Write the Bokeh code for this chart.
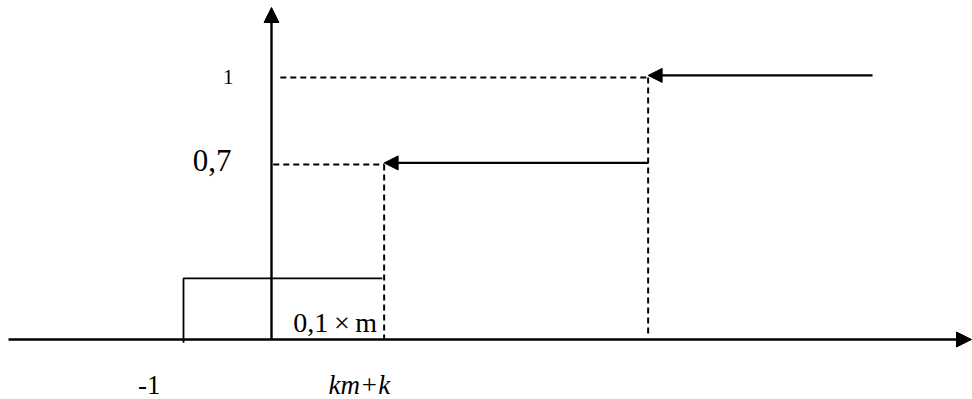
from bokeh.plotting import figure
from bokeh.models import Arrow, NormalHead, Range1d
from bokeh.core.properties import value
from bokeh.embed import file_html
from bokeh.resources import INLINE

# ---- data ----
jump_x = [-1.0, 1.28, 4.28]        # jump points of the step function
step_y = [0.233, 0.668, 1.0]       # drawn heights of the steps
top_arrow_start = 6.83             # right end of the top level arrow
x_labels = ["-1", "km+k"]
y_labels = ["0,7", "1"]
rect_label = "0,1\u2009\u00d7\u2009m"

PX_X = 88.0    # pixels per x unit
PX_Y = 262.0   # pixels per y unit

W, H = 972, 399
ORIGIN_X, ORIGIN_Y = 271.0, 339.0
x0 = -ORIGIN_X / PX_X
x1 = x0 + W / PX_X
y1 = ORIGIN_Y / PX_Y
y0 = y1 - H / PX_Y

p = figure(width=W, height=H, output_backend="svg", toolbar_location=None,
           x_range=Range1d(x0, x1), y_range=Range1d(y0, y1),
           min_border=0, min_border_left=0, min_border_right=0,
           min_border_top=0, min_border_bottom=0)
p.axis.visible = False
p.grid.visible = False
p.outline_line_color = None
p.background_fill_color = "white"
p.border_fill_color = "white"

# axes with arrows
x_start = x0 + 8.0 / PX_X
x_tip = x1 - 1.0 / PX_X
y_tip = y1 - 7.0 / PX_Y
p.add_layout(Arrow(end=NormalHead(size=15, fill_color="black", line_color="black"),
                   x_start=x_start, y_start=0, x_end=x_tip, y_end=0,
                   line_width=2.4, line_color="black"))
p.add_layout(Arrow(end=NormalHead(size=15, fill_color="black", line_color="black"),
                   x_start=0, y_start=0, x_end=0, y_end=y_tip,
                   line_width=2.4, line_color="black"))

# rectangle (0,1 x m step)
p.line([jump_x[0], jump_x[0], jump_x[1] - 0.02], [-0.012, step_y[0], step_y[0]],
       line_color="black", line_width=1.8)

# level arrows
p.add_layout(Arrow(end=NormalHead(size=14, fill_color="black", line_color="black"),
                   x_start=jump_x[2], y_start=step_y[1] + 0.006, x_end=jump_x[1],
                   y_end=step_y[1] + 0.006,
                   line_width=2.4, line_color="black"))
p.add_layout(Arrow(end=NormalHead(size=14, fill_color="black", line_color="black"),
                   x_start=top_arrow_start, y_start=step_y[2] + 0.008,
                   x_end=jump_x[2], y_end=step_y[2] + 0.008,
                   line_width=2.4, line_color="black"))

# dashed guides
dash = dict(line_color="black", line_width=2, line_dash="6 4")
p.line([0.02, jump_x[1]], [step_y[1], step_y[1]], **dash)
p.line([0.1, jump_x[2]], [step_y[2], step_y[2]], **dash)
p.line([jump_x[1], jump_x[1]], [step_y[1], 0], **dash)
p.line([jump_x[2], jump_x[2]], [step_y[2], 0.01], **dash)

serif = value("Liberation Serif")

# y labels
p.text(x=[0, 0], y=[step_y[1], step_y[2]], text=y_labels,
       text_font=serif, text_font_size=["31px", "21px"], text_align="right",
       text_baseline="middle", x_offset=[-40, -38], y_offset=[-4, -1],
       text_color="black")

# x labels
p.text(x=[jump_x[0], jump_x[1]], y=[0, 0], text=x_labels,
       text_font=serif, text_font_size="27px", text_align="right",
       text_baseline="alphabetic", x_offset=[-23, 6], y_offset=[45, 45],
       text_font_style=["normal", "italic"], text_color="black")

# rectangle label
p.text(x=[jump_x[1]], y=[0], text=[rect_label],
       text_font=serif, text_font_size="28px", text_align="right",
       text_baseline="alphabetic", x_offset=[-7], y_offset=[-17],
       text_color="black")

open("out.html", "w").write(file_html(p, INLINE))
